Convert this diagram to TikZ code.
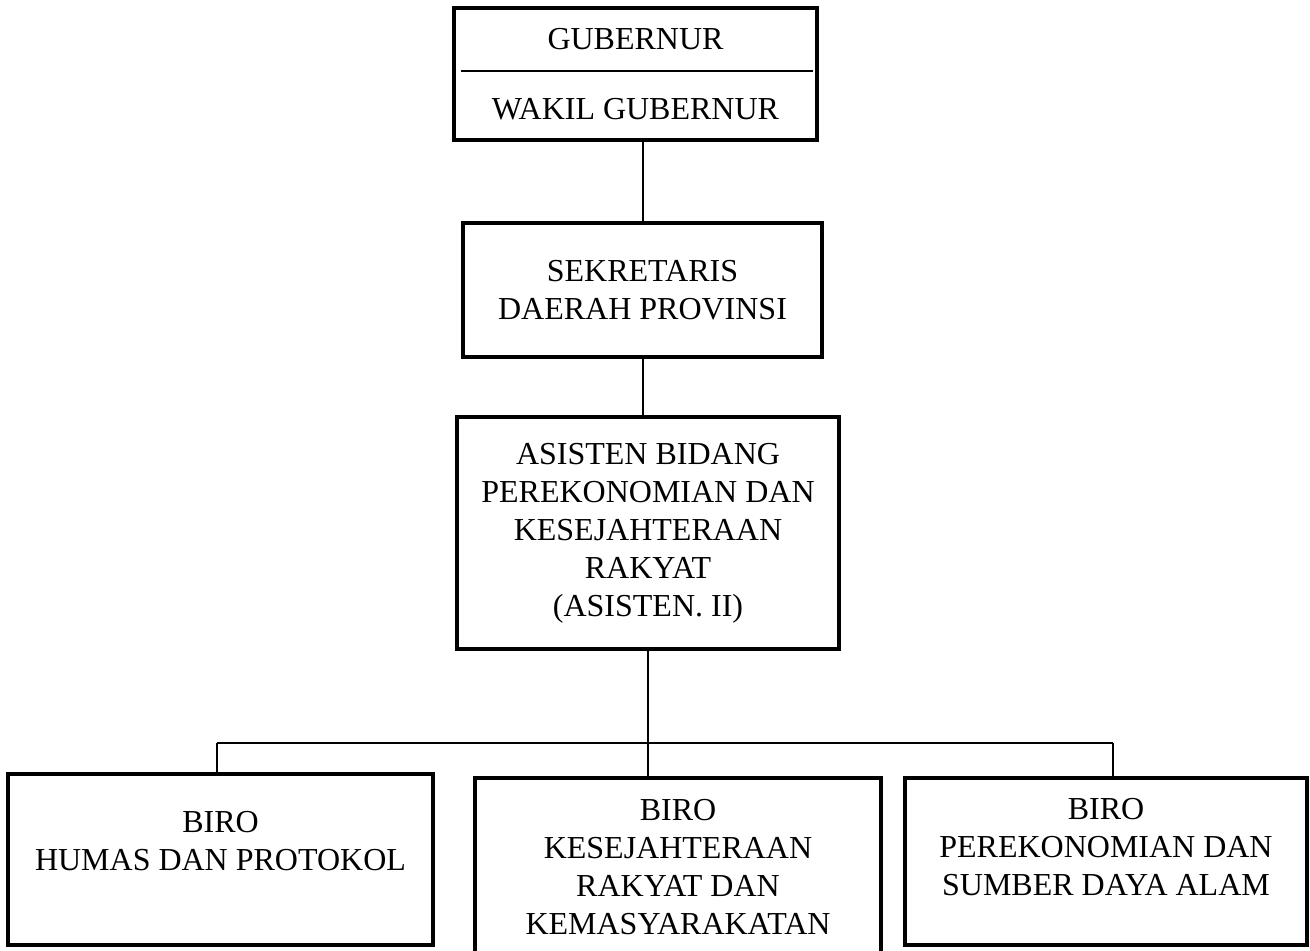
\documentclass[tikz,border=0pt]{standalone}
\usepackage{fontspec}
\setmainfont{Liberation Serif}
\usepackage{xcolor}
\usepackage{tikz}
\newcommand{\orgfont}{\fontsize{16}{19}\selectfont}

\begin{document}
\begin{tikzpicture}[
  x=0.5pt,y=-0.5pt,
  unit/.style={rectangle,draw=black,line width=2pt,fill=white,
               align=center,inner sep=0pt,font=\orgfont},
  link/.style={line width=1pt,draw=black},
  divider/.style={line width=0.9pt,draw=black}
]
  \useasboundingbox (0,0) rectangle (1310,951);

  \node[unit,minimum width=181.5pt,minimum height=66pt] (gub) at (635.5,74)
    {GUBERNUR\\[15.75pt]WAKIL GUBERNUR};
  \node[unit,minimum width=179.5pt,minimum height=67pt] (sekda) at (642.5,290)
    {SEKRETARIS\\DAERAH PROVINSI};
  \node[unit,minimum width=191pt,minimum height=116pt] (asisten) at (648,533)
    {ASISTEN BIDANG\\PEREKONOMIAN DAN\\KESEJAHTERAAN\\RAKYAT\\(ASISTEN. II)};

  \node[unit,minimum width=212.5pt,minimum height=85.5pt] (humas) at (220.5,859.5)
    {BIRO\\HUMAS DAN PROTOKOL\\\mbox{}};
  \node[unit,minimum width=203pt,minimum height=89pt] (kesra) at (678,867)
    {BIRO\\KESEJAHTERAAN\\RAKYAT DAN\\KEMASYARAKATAN};
  \node[unit,minimum width=201pt,minimum height=83.5pt] (ekon) at (1106,861.5)
    {BIRO\\PEREKONOMIAN DAN\\SUMBER DAYA ALAM\\[-4pt]\mbox{}};

  % line between gubernur and wakil
  \draw[divider] ([xshift=4.5pt,yshift=1.5pt]gub.west) -- ([xshift=-3pt,yshift=1.5pt]gub.east);

  \coordinate (busl) at (217,743);
  \coordinate (busr) at (1113,743);

  \draw[link] (gub.south -| sekda.north) -- (sekda.north);
  \draw[link] (sekda.south) -- (sekda.south |- asisten.north);
  \draw[link] (asisten.south) -- (asisten.south |- kesra.north);
  \draw[link] (busl) -- (busr);
  \draw[link] (busl) -- (busl |- humas.north);
  \draw[link] (busr) -- (busr |- ekon.north);
\end{tikzpicture}
\end{document}
